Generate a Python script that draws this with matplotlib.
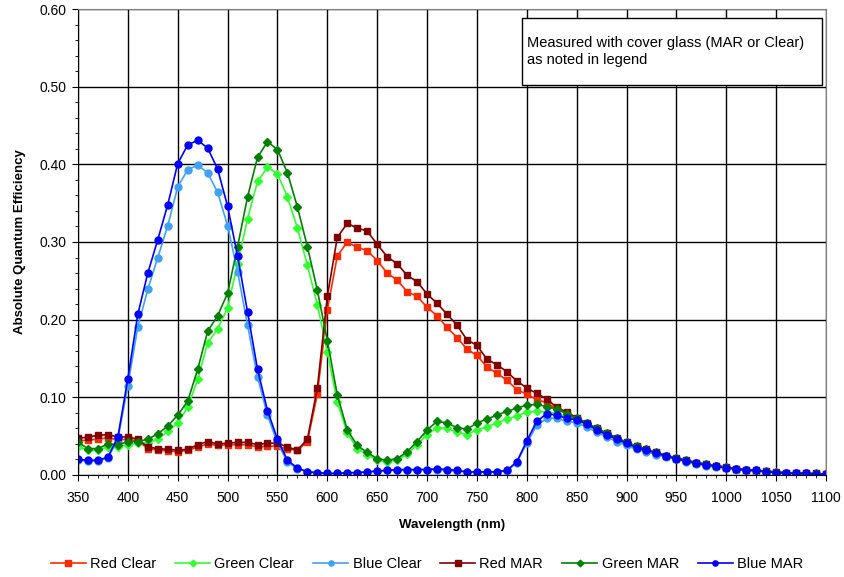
import matplotlib.pyplot as plt
from matplotlib.patches import Rectangle
from matplotlib.ticker import MultipleLocator

plt.rcParams["font.family"] = ["Liberation Sans", "DejaVu Sans"]

# wavelength categories (nm)
wavelength = list(range(350, 1101, 10))

red_clear = [0.044, 0.045, 0.046, 0.048, 0.045, 0.046, 0.044, 0.034, 0.032, 0.031,
             0.030, 0.032, 0.036, 0.040, 0.038, 0.039, 0.039, 0.039, 0.036, 0.037,
             0.037, 0.033, 0.032, 0.043, 0.104, 0.213, 0.282, 0.300, 0.293, 0.289,
             0.276, 0.260, 0.251, 0.236, 0.230, 0.216, 0.205, 0.190, 0.177, 0.162,
             0.154, 0.139, 0.131, 0.122, 0.110, 0.104, 0.097, 0.093, 0.085, 0.079,
             0.072, 0.066, 0.058, 0.052, 0.046, 0.040, 0.036, 0.032, 0.028, 0.024,
             0.021, 0.018, 0.015, 0.013, 0.011, 0.009, 0.008, 0.006, 0.005, 0.004,
             0.003, 0.003, 0.002, 0.002, 0.001, 0.001]
green_clear = [0.036, 0.032, 0.032, 0.036, 0.036, 0.039, 0.041, 0.041, 0.046, 0.056,
               0.067, 0.087, 0.123, 0.170, 0.188, 0.215, 0.272, 0.330, 0.378, 0.396,
               0.388, 0.358, 0.318, 0.270, 0.219, 0.158, 0.094, 0.054, 0.034, 0.026,
               0.019, 0.017, 0.019, 0.027, 0.039, 0.052, 0.061, 0.060, 0.055, 0.052,
               0.058, 0.062, 0.067, 0.072, 0.076, 0.081, 0.082, 0.081, 0.079, 0.075,
               0.070, 0.064, 0.058, 0.052, 0.046, 0.040, 0.036, 0.032, 0.028, 0.024,
               0.021, 0.018, 0.015, 0.013, 0.011, 0.009, 0.008, 0.006, 0.005, 0.004,
               0.003, 0.003, 0.002, 0.002, 0.001, 0.001]
blue_clear = [0.019, 0.018, 0.018, 0.022, 0.046, 0.115, 0.191, 0.239, 0.280, 0.321,
              0.371, 0.393, 0.399, 0.389, 0.364, 0.321, 0.262, 0.193, 0.126, 0.077,
              0.041, 0.017, 0.008, 0.004, 0.003, 0.002, 0.002, 0.003, 0.003, 0.004,
              0.005, 0.006, 0.006, 0.006, 0.007, 0.007, 0.007, 0.006, 0.005, 0.004,
              0.004, 0.004, 0.004, 0.005, 0.016, 0.041, 0.064, 0.073, 0.073, 0.069,
              0.067, 0.062, 0.055, 0.049, 0.043, 0.038, 0.033, 0.030, 0.026, 0.023,
              0.020, 0.017, 0.014, 0.012, 0.010, 0.009, 0.007, 0.006, 0.005, 0.004,
              0.003, 0.002, 0.002, 0.001, 0.001, 0.001]
red_mar = [0.047, 0.049, 0.051, 0.052, 0.049, 0.049, 0.046, 0.036, 0.034, 0.033,
           0.032, 0.033, 0.039, 0.043, 0.040, 0.041, 0.042, 0.042, 0.039, 0.041,
           0.041, 0.036, 0.032, 0.046, 0.112, 0.230, 0.306, 0.324, 0.318, 0.314,
           0.297, 0.281, 0.272, 0.257, 0.249, 0.233, 0.221, 0.207, 0.193, 0.174,
           0.167, 0.149, 0.142, 0.133, 0.121, 0.112, 0.105, 0.098, 0.087, 0.081,
           0.074, 0.067, 0.060, 0.054, 0.048, 0.042, 0.037, 0.033, 0.029, 0.025,
           0.022, 0.019, 0.016, 0.014, 0.012, 0.010, 0.008, 0.007, 0.006, 0.005,
           0.004, 0.003, 0.002, 0.002, 0.002, 0.001]
green_mar = [0.042, 0.034, 0.034, 0.040, 0.039, 0.043, 0.043, 0.046, 0.053, 0.063,
             0.077, 0.095, 0.136, 0.185, 0.205, 0.234, 0.294, 0.358, 0.409, 0.429,
             0.419, 0.389, 0.345, 0.294, 0.238, 0.173, 0.103, 0.058, 0.038, 0.029,
             0.021, 0.019, 0.021, 0.030, 0.043, 0.058, 0.069, 0.067, 0.061, 0.059,
             0.067, 0.072, 0.077, 0.082, 0.086, 0.090, 0.091, 0.088, 0.085, 0.079,
             0.073, 0.067, 0.060, 0.054, 0.048, 0.042, 0.037, 0.033, 0.029, 0.025,
             0.022, 0.019, 0.016, 0.014, 0.012, 0.010, 0.008, 0.007, 0.006, 0.005,
             0.004, 0.003, 0.002, 0.002, 0.002, 0.001]
blue_mar = [0.020, 0.019, 0.019, 0.023, 0.049, 0.124, 0.207, 0.260, 0.303, 0.348,
            0.401, 0.425, 0.431, 0.421, 0.394, 0.346, 0.282, 0.210, 0.136, 0.083,
            0.046, 0.019, 0.009, 0.004, 0.003, 0.002, 0.002, 0.003, 0.003, 0.004,
            0.005, 0.006, 0.007, 0.007, 0.007, 0.007, 0.008, 0.007, 0.006, 0.004,
            0.004, 0.004, 0.004, 0.006, 0.017, 0.044, 0.069, 0.079, 0.077, 0.073,
            0.071, 0.066, 0.058, 0.052, 0.046, 0.041, 0.035, 0.032, 0.028, 0.024,
            0.021, 0.018, 0.015, 0.013, 0.011, 0.009, 0.008, 0.006, 0.006, 0.004,
            0.003, 0.002, 0.002, 0.002, 0.001, 0.001]

series = [
    ("Red Clear", red_clear, "#ff2a00", "s"),
    ("Green Clear", green_clear, "#33ff33", "D"),
    ("Blue Clear", blue_clear, "#3fa2f5", "o"),
    ("Red MAR", red_mar, "#800000", "s"),
    ("Green MAR", green_mar, "#008000", "D"),
    ("Blue MAR", blue_mar, "#0000ff", "o"),
]

fig = plt.figure(figsize=(8.44, 5.77), dpi=100)
ax = fig.add_axes([0.0924, 0.1768, 0.8863, 0.8076])

for name, vals, col, mk in series:
    ms = 5 if mk != "D" else 4.5
    ax.plot(wavelength, vals, color=col, marker=mk, markersize=ms, lw=1.2, label=name)

ax.set_xlim(350, 1100)
ax.set_ylim(0, 0.6)
ax.xaxis.set_major_locator(MultipleLocator(50))
ax.xaxis.set_minor_locator(MultipleLocator(10))
ax.yaxis.set_major_locator(MultipleLocator(0.1))
ax.yaxis.set_minor_locator(MultipleLocator(0.02))
ax.yaxis.set_major_formatter(plt.FormatStrFormatter("%.2f"))
ax.grid(True, which="major", color="black", lw=1.0)
ax.set_axisbelow(True)
ax.tick_params(which="major", direction="out", length=4.5, labelsize=10)
ax.tick_params(axis="x", which="major", pad=7)
ax.tick_params(which="minor", direction="out", length=2.5)
for s in ["top", "right"]:
    ax.spines[s].set_color("#808080")

ax.set_xlabel("Wavelength (nm)", fontweight="bold", fontsize=9.5, labelpad=10)
ax.set_ylabel("Absolute Quantum Efficiency", fontweight="bold", fontsize=9.5, labelpad=10)

# note box
ax.add_patch(Rectangle((0.593, 0.837), 0.402, 0.144, transform=ax.transAxes,
                       fc="white", ec="black", lw=1.0, zorder=5))
ax.text(0.600, 0.909, "Measured with cover glass (MAR or Clear)\nas noted in legend",
        transform=ax.transAxes, fontsize=10.5, va="center", ha="left",
        linespacing=1.25, zorder=6)

fig.legend(loc="center", bbox_to_anchor=(0.506, 0.023), ncol=6, frameon=False,
           fontsize=10.5, handlelength=2.4, columnspacing=1.3, handletextpad=0.3,
           markerscale=0.75)

fig.savefig("out.png", dpi=100)
